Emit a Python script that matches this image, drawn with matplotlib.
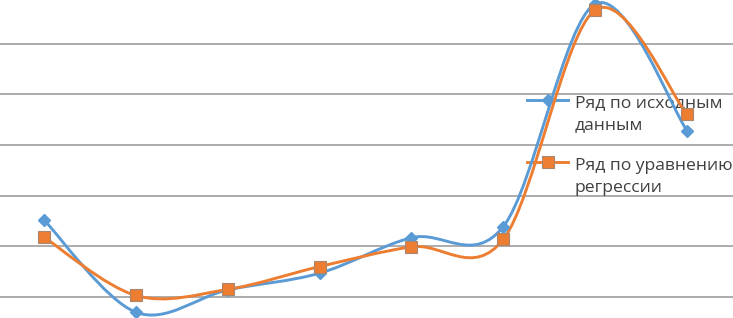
import numpy as np
import matplotlib
matplotlib.use("Agg")
import matplotlib.pyplot as plt
from matplotlib.path import Path
from matplotlib.patches import PathPatch
from matplotlib.lines import Line2D
from matplotlib.legend_handler import HandlerLine2D

# ---- data ----
categories = [1, 2, 3, 4, 5, 6, 7, 8]
series_original = [1.52, -0.30, 0.14, 0.47, 1.17, 1.39, 5.78, 3.28]
series_regression = [1.18, 0.03, 0.15, 0.60, 0.99, 1.14, 5.66, 3.60]
label_original = "Ряд по исходным\nданным"
label_regression = "Ряд по уравнению\nрегрессии"
grid_values = [0, 1, 2, 3, 4, 5]

BLUE = "#5B9BD5"
ORANGE = "#ED7D31"

plt.rcParams['font.family'] = ['Open Sans', 'DejaVu Sans']

fig = plt.figure(figsize=(7.33, 3.18), dpi=100)
ax = fig.add_axes([0, 0, 1, 1])
ax.set_xlim(0.521, 8.50)
ax.set_ylim(-0.414, 5.858)
for s in ax.spines.values():
    s.set_visible(False)
ax.set_xticks([])
ax.set_yticks(grid_values)
ax.tick_params(left=False, labelleft=False)
ax.yaxis.grid(True, color="#A6A6A6", linewidth=1.3)
ax.set_axisbelow(True)


def smooth_path(xs, ys):
    xs = np.asarray(xs, float)
    ys = np.asarray(ys, float)
    n = len(xs)
    verts = [(xs[0], ys[0])]
    codes = [Path.MOVETO]
    for i in range(n - 1):
        i0 = max(i - 1, 0)
        i3 = min(i + 2, n - 1)
        c1 = (xs[i] + (xs[i + 1] - xs[i0]) / 6, ys[i] + (ys[i + 1] - ys[i0]) / 6)
        c2 = (xs[i + 1] - (xs[i3] - xs[i]) / 6, ys[i + 1] - (ys[i3] - ys[i]) / 6)
        verts += [c1, c2, (xs[i + 1], ys[i + 1])]
        codes += [Path.CURVE4] * 3
    return Path(verts, codes)


for ys, color, z in [(series_original, BLUE, 3), (series_regression, ORANGE, 4)]:
    patch = PathPatch(smooth_path(categories, ys), facecolor="none",
                      edgecolor=color, linewidth=2.1, zorder=z,
                      capstyle="round", joinstyle="round")
    ax.add_patch(patch)

ax.plot(categories, series_original, linestyle="none", marker="D",
        markersize=6, color=BLUE, markeredgecolor=BLUE, zorder=5)
ax.plot(categories, series_regression, linestyle="none", marker="s",
        markersize=8, color=ORANGE, markeredgecolor="#A88670",
        markeredgewidth=0.8, zorder=6)


class HandlerFirstLine(HandlerLine2D):
    def __init__(self, shift, **kw):
        super().__init__(**kw)
        self.shift = shift

    def create_artists(self, legend, orig_handle, xdescent, ydescent,
                       width, height, fontsize, trans):
        return super().create_artists(legend, orig_handle, xdescent,
                                      ydescent - 2 * self.shift, width,
                                      height, fontsize, trans)


h1 = Line2D([], [], color=BLUE, linewidth=2.1, marker="D", markersize=6,
            markeredgecolor=BLUE)
h2 = Line2D([], [], color=ORANGE, linewidth=2.1, marker="s", markersize=8,
            markeredgecolor="#A88670", markeredgewidth=0.8)
shift = 10.5
leg = ax.legend([h1, h2], [label_original, label_regression],
                loc="upper left", bbox_to_anchor=(0.719, 0.70),
                frameon=False, fontsize=12.6, handlelength=2.35,
                handletextpad=0.38, labelspacing=1.4,
                borderaxespad=0, borderpad=0,
                handler_map={h1: HandlerFirstLine(shift),
                             h2: HandlerFirstLine(shift)})
for t in leg.get_texts():
    t.set_color("#404040")
    t.set_linespacing(1.5)
leg.set_zorder(2)

fig.savefig("out.png", dpi=100)
